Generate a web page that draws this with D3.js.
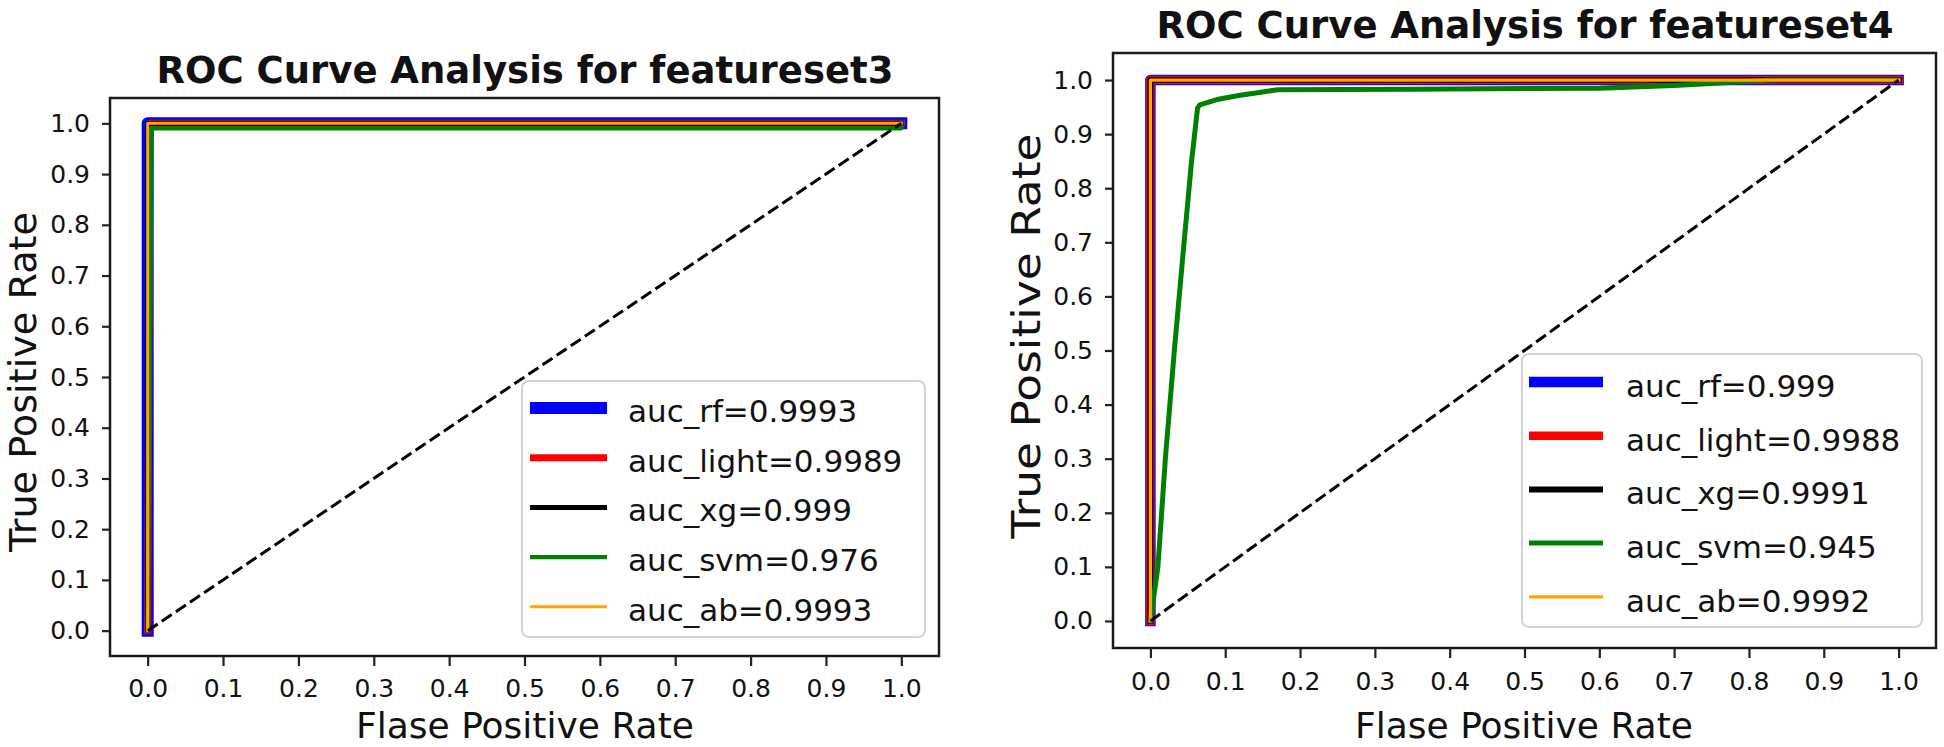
<!DOCTYPE html>
<html><head><meta charset="utf-8">
<script src="https://cdn.jsdelivr.net/npm/d3@7"></script>
<style>
body{margin:0;background:#fff}
svg{display:block}
text{font-family:"DejaVu Sans",sans-serif;fill:#111}
</style>
</head><body>
<svg id="chart" width="1944" height="747"></svg>
<script>
// ---------------- data ----------------
const modelNames = ["rf", "light", "xg", "svm", "ab"];
const tickValues = [0, 0.1, 0.2, 0.3, 0.4, 0.5, 0.6, 0.7, 0.8, 0.9, 1.0];
const tickLabels = ["0.0", "0.1", "0.2", "0.3", "0.4", "0.5", "0.6", "0.7", "0.8", "0.9", "1.0"];
const titles = ["ROC Curve Analysis for featureset3", "ROC Curve Analysis for featureset4"];
const xAxisLabel = "Flase Positive Rate";
const yAxisLabel = "True Positive Rate";

const aucSet3 = [0.9993, 0.9989, 0.999, 0.976, 0.9993];
const aucSet4 = [0.999, 0.9988, 0.9991, 0.945, 0.9992];

// featureset3 curves
const set3RfFpr = [0, 0, 1];           const set3RfTpr = [0, 1, 1];
const set3LightFpr = [0, 0.003, 1];    const set3LightTpr = [0, 1, 1];
const set3XgFpr = [0, 0, 1];           const set3XgTpr = [0, 1, 1];
const set3SvmFpr = [0, 0.005, 1, 1];   const set3SvmTpr = [0, 0.99, 0.99, 1];
const set3AbFpr = [0, 0, 1];           const set3AbTpr = [0, 1, 1];

// featureset4 curves
const set4RfFpr = [0, 0, 1];           const set4RfTpr = [0, 1, 1];
const set4LightFpr = [0, 0, 1];        const set4LightTpr = [0, 1, 1];
const set4XgFpr = [0, 0, 1];           const set4XgTpr = [0, 1, 1];
const set4SvmFpr = [0, 0.01, 0.02, 0.032, 0.045, 0.055, 0.063, 0.066, 0.089, 0.12, 0.15, 0.17, 0.35, 0.6, 0.7, 0.78, 0.83, 1];
const set4SvmTpr = [0, 0.1, 0.3, 0.5, 0.7, 0.85, 0.948, 0.954, 0.964, 0.972, 0.978, 0.982, 0.983, 0.985, 0.99, 0.996, 1, 1];
const set4AbFpr = [0, 0, 1];           const set4AbTpr = [0, 1, 1];

const diagFpr = [0, 1];
const diagTpr = [0, 1];

// ---------------- styles / layout ----------------
const seriesColors = ["#0000ff", "#ff0000", "#000000", "#008000", "#ffa500"];
const panels = [
  {
    auc: aucSet3,
    curves: [[set3RfFpr, set3RfTpr], [set3LightFpr, set3LightTpr], [set3XgFpr, set3XgTpr], [set3SvmFpr, set3SvmTpr], [set3AbFpr, set3AbTpr]],
    widths: [12, 7, 5, 4.3, 3],
    box: {l: 110, r: 939, t: 98, b: 656},
    title: {x: 525, y: 83},
    xlab: {x: 525, y: 738},
    ylab: {x: 36, y: 382, size: 37, len: 340},
    xTickPad: 13,
    legend: {l: 522, r: 925, t: 381, b: 637, hx0: 530, hx1: 607, tx: 628, y0: 408, dy: 49.7, base: 14}
  },
  {
    auc: aucSet4,
    curves: [[set4RfFpr, set4RfTpr], [set4LightFpr, set4LightTpr], [set4XgFpr, set4XgTpr], [set4SvmFpr, set4SvmTpr], [set4AbFpr, set4AbTpr]],
    widths: [10.5, 8.5, 6, 5, 3.3],
    box: {l: 1113, r: 1936, t: 53, b: 648},
    title: {x: 1525, y: 38},
    xlab: {x: 1524, y: 738},
    ylab: {x: 1040, y: 336, size: 39, len: 405},
    xTickPad: 14,
    legend: {l: 1522, r: 1922, t: 354, b: 627, hx0: 1529, hx1: 1603, tx: 1626, y0: 382, dy: 53.7, base: 15}
  }
];

const svg = d3.select("#chart");

panels.forEach((p, pi) => {
  const x = d3.scaleLinear().domain([-0.05, 1.05]).range([p.box.l, p.box.r]);
  const y = d3.scaleLinear().domain([-0.05, 1.05]).range([p.box.b, p.box.t]);
  const g = svg.append("g");

  const line = d3.line().x(d => x(d[0])).y(d => y(d[1]));

  // curves
  p.curves.forEach((c, i) => {
    const pts = c[0].map((v, k) => [v, c[1][k]]);
    g.append("path")
      .attr("d", line(pts))
      .attr("fill", "none")
      .attr("stroke", seriesColors[i])
      .attr("stroke-width", p.widths[i])
      .attr("stroke-linecap", "square")
      .attr("stroke-linejoin", "round");
  });

  // diagonal
  g.append("path")
    .attr("d", line(diagFpr.map((v, k) => [v, diagTpr[k]])))
    .attr("fill", "none")
    .attr("stroke", "#000")
    .attr("stroke-width", 3)
    .attr("stroke-dasharray", "12,5");

  // axes
  const xa = d3.axisBottom(x).tickValues(tickValues).tickFormat((d, i) => tickLabels[i]).tickSize(10).tickPadding(p.xTickPad);
  const ya = d3.axisLeft(y).tickValues(tickValues).tickFormat((d, i) => tickLabels[i]).tickSize(8).tickPadding(12);
  const gx = g.append("g").attr("transform", `translate(0,${p.box.b})`).call(xa);
  const gy = g.append("g").attr("transform", `translate(${p.box.l},0)`).call(ya);
  [gx, gy].forEach(a => {
    a.select(".domain").remove();
    a.selectAll(".tick line").attr("stroke", "#222").attr("stroke-width", 2.2);
    a.selectAll(".tick text").attr("font-size", 25).attr("fill", "#222").style("font-family", "'DejaVu Sans', sans-serif");
  });

  // frame
  g.append("rect")
    .attr("x", p.box.l).attr("y", p.box.t)
    .attr("width", p.box.r - p.box.l).attr("height", p.box.b - p.box.t)
    .attr("fill", "none").attr("stroke", "#1a1a1a").attr("stroke-width", 2.5);

  // legend
  const L = p.legend;
  g.append("rect")
    .attr("x", L.l).attr("y", L.t).attr("width", L.r - L.l).attr("height", L.b - L.t)
    .attr("rx", 7).attr("fill", "rgba(255,255,255,0.85)").attr("stroke", "#d4d4d4").attr("stroke-width", 2);
  modelNames.forEach((m, i) => {
    const yy = L.y0 + i * L.dy;
    g.append("line")
      .attr("x1", L.hx0).attr("x2", L.hx1).attr("y1", yy).attr("y2", yy)
      .attr("stroke", seriesColors[i]).attr("stroke-width", p.widths[i]);
    g.append("text")
      .attr("x", L.tx).attr("y", yy + L.base)
      .attr("font-size", 31)
      .text(`auc_${m}=${p.auc[i]}`);
  });

  // title & labels
  g.append("text")
    .attr("x", p.title.x).attr("y", p.title.y)
    .attr("text-anchor", "middle").attr("font-size", 37).attr("font-weight", "bold")
    .text(titles[pi]);
  g.append("text")
    .attr("x", p.xlab.x).attr("y", p.xlab.y)
    .attr("text-anchor", "middle").attr("font-size", 36)
    .text(xAxisLabel);
  g.append("text")
    .attr("transform", `translate(${p.ylab.x},${p.ylab.y}) rotate(-90)`)
    .attr("text-anchor", "middle").attr("font-size", p.ylab.size)
    .attr("textLength", p.ylab.len).attr("lengthAdjust", "spacingAndGlyphs")
    .text(yAxisLabel);
});
</script>
</body></html>
